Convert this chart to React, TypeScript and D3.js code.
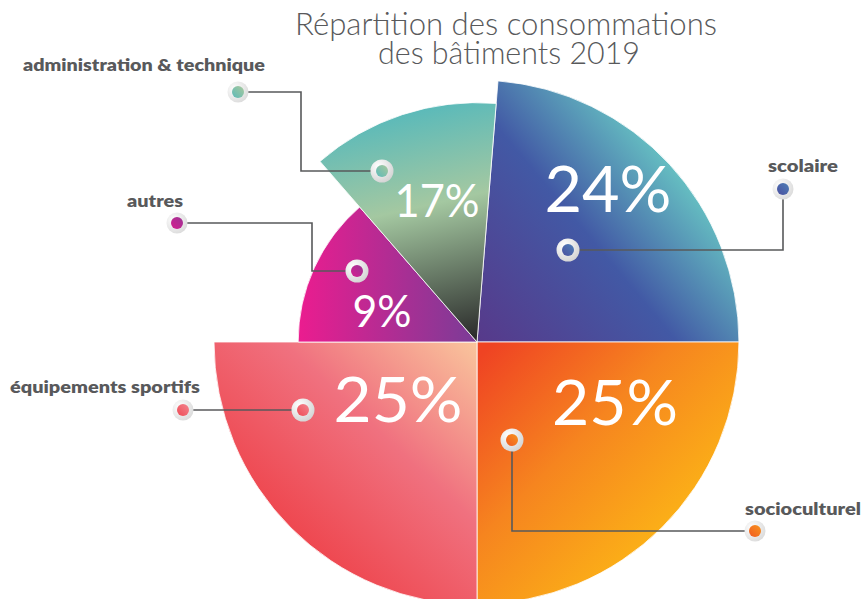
import React from "react";
import * as d3 from "d3";

// ---- data ----
const categories = ["scolaire", "socioculturel", "équipements sportifs", "autres", "administration & technique"];
const percentages = [24, 25, 25, 9, 17];
// angular share of each slice as drawn in the picture (degrees)
const angleShare = [85.4, 90, 90, 49, 45.6];
// relative radius of each slice as drawn in the picture
const radiusShare = [0.996, 0.996, 1, 0.68, 0.91];
const startAngleDeg = 4.6;
const titleLines = ["Répartition des consommations", "des bâtiments 2019"];

// ---- layout / styles ----
const W = 863, H = 599;
const CX = 477, CY = 342, RMAX = 263;

const gradients = [
  { id: "g0", x1: 477, y1: 342, x2: 680, y2: 172, stops: [["0", "#57398a"], ["0.58", "#4259a5"], ["1", "#66c0c2"]] },
  { id: "g1", x1: 485, y1: 350, x2: 690, y2: 555, stops: [["0", "#ef4323"], ["0.45", "#f6851f"], ["1", "#fdbc15"]] },
  { id: "g2", x1: 280, y1: 555, x2: 475, y2: 345, stops: [["0", "#ee3f46"], ["0.55", "#f0717f"], ["1", "#f9c39c"]] },
  { id: "g3", x1: 297, y1: 0, x2: 477, y2: 0, stops: [["0", "#ec1c8f"], ["1", "#7a3c97"]] },
  { id: "g4", x1: 420, y1: 110, x2: 472, y2: 340, stops: [["0", "#5cbab9"], ["0.4", "#a4c8a1"], ["1", "#2a2a2a"]] },
];
const dotColors = [
  ["#4a4fa0", "#4e7fb6"],
  ["#f15a22", "#f7941d"],
  ["#ef4a55", "#f2858f"],
  ["#d61f8f", "#9c3495"],
  ["#5cbab9", "#a9c89c"],
];

const pctStyle = [
  { x: 608, y: 212, size: 64, len: 127 },
  { x: 615, y: 425, size: 62, len: 126 },
  { x: 398, y: 422, size: 62, len: 129 },
  { x: 382, y: 327, size: 44, len: 59 },
  { x: 437, y: 217, size: 47, len: 85 },
];

const callouts = [
  { inner: [568, 250], path: [[568, 250], [783, 250], [783, 189]], outer: [783, 189], label: [803, 172], len: 70 },
  { inner: [512, 440], path: [[512, 440], [512, 531], [755, 531]], outer: [755, 531], label: [803, 515], len: 116 },
  { inner: [303, 410], path: [[303, 410], [183, 410]], outer: [183, 410], label: [105, 393], len: 190 },
  { inner: [357, 271], path: [[357, 271], [312, 271], [312, 223], [177, 223]], outer: [177, 223], label: [155, 207], len: 56 },
  { inner: [382, 171], path: [[382, 171], [301, 171], [301, 92], [238, 92]], outer: [238, 92], label: [144, 71], len: 242 },
];

export default function App() {
  const rScale = d3.scaleLinear().domain([0, 1]).range([0, RMAX]);
  const start = (startAngleDeg * Math.PI) / 180;
  const pie = d3
    .pie<number>()
    .sort(null)
    .value((d) => d)
    .startAngle(start)
    .endAngle(start + 2 * Math.PI);
  const arcsData = pie(angleShare);
  const line = d3.line<number[]>().x((d) => d[0]).y((d) => d[1]);

  return (
    <div style={{ position: "fixed", left: 0, top: 0 }}>
      <svg width={W} height={H} style={{ display: "block", background: "#fff" }}>
        <defs>
          {gradients.map((g) => (
            <linearGradient
              key={g.id}
              id={g.id}
              gradientUnits="userSpaceOnUse"
              x1={g.x1 - CX}
              y1={g.y1 - CY}
              x2={g.x2 - CX}
              y2={g.y2 - CY}
            >
              {g.stops.map((s, i) => (
                <stop key={i} offset={s[0]} stopColor={s[1]} />
              ))}
            </linearGradient>
          ))}
          {dotColors.map((c, i) => (
            <linearGradient key={"d" + i} id={"d" + i} x1="0" y1="1" x2="1" y2="0">
              <stop offset="0" stopColor={c[0]} />
              <stop offset="1" stopColor={c[1]} />
            </linearGradient>
          ))}
          <radialGradient id="ringOuter" cx="0.35" cy="0.35" r="0.75">
            <stop offset="0" stopColor="#ffffff" />
            <stop offset="1" stopColor="#d9d9d9" />
          </radialGradient>
          <radialGradient id="ringInner" cx="0.35" cy="0.3" r="0.8">
            <stop offset="0" stopColor="#ffffff" />
            <stop offset="1" stopColor="#d0d0d0" />
          </radialGradient>
        </defs>

        {/* slices */}
        <g transform={`translate(${CX},${CY})`}>
          {arcsData.map((a, i) => {
            const arcGen = d3.arc<d3.PieArcDatum<number>>().innerRadius(0).outerRadius(rScale(radiusShare[i]));
            return (
              <path
                key={i}
                d={arcGen(a) || ""}
                fill={`url(#${gradients[i].id})`}
                stroke="#ffffff"
                strokeWidth={0.8}
              />
            );
          })}
        </g>

        {/* percentages */}
        {percentages.map((p, i) => (
          <text
            key={i}
            x={pctStyle[i].x}
            y={pctStyle[i].y}
            textAnchor="middle"
            fill="#ffffff"
            fontFamily="Lato, sans-serif"
            fontWeight={400}
            fontSize={pctStyle[i].size}
            textLength={pctStyle[i].len}
            lengthAdjust="spacingAndGlyphs"
          >
            {p}%
          </text>
        ))}

        {/* callouts */}
        {callouts.map((c, i) => (
          <g key={i}>
            <path d={line(c.path) || ""} fill="none" stroke="#58595b" strokeWidth={1.6} />
            <circle cx={c.inner[0]} cy={c.inner[1]} r={11.5} fill="url(#ringInner)" />
            <circle cx={c.inner[0]} cy={c.inner[1]} r={6} fill={`url(#d${i})`} />
            <circle cx={c.outer[0]} cy={c.outer[1]} r={10.5} fill="url(#ringOuter)" />
            <circle cx={c.outer[0]} cy={c.outer[1]} r={6} fill={`url(#d${i})`} />
            <text
              x={c.label[0]}
              y={c.label[1]}
              textAnchor="middle"
              fill="#58595b"
              fontFamily="Lato, sans-serif"
              fontWeight={800}
              fontSize={16}
              textLength={c.len}
              lengthAdjust="spacingAndGlyphs"
            >
              {categories[i]}
            </text>
          </g>
        ))}

        {/* title */}
        <text x={506} y={35} textAnchor="middle" fill="#58595b" fontFamily="Lato, sans-serif" fontWeight={300} fontSize={31} textLength={422} lengthAdjust="spacingAndGlyphs">
          {titleLines[0]}
        </text>
        <text x={509} y={64} textAnchor="middle" fill="#58595b" fontFamily="Lato, sans-serif" fontWeight={300} fontSize={31} textLength={262} lengthAdjust="spacingAndGlyphs">
          {titleLines[1]}
        </text>
      </svg>
    </div>
  );
}
